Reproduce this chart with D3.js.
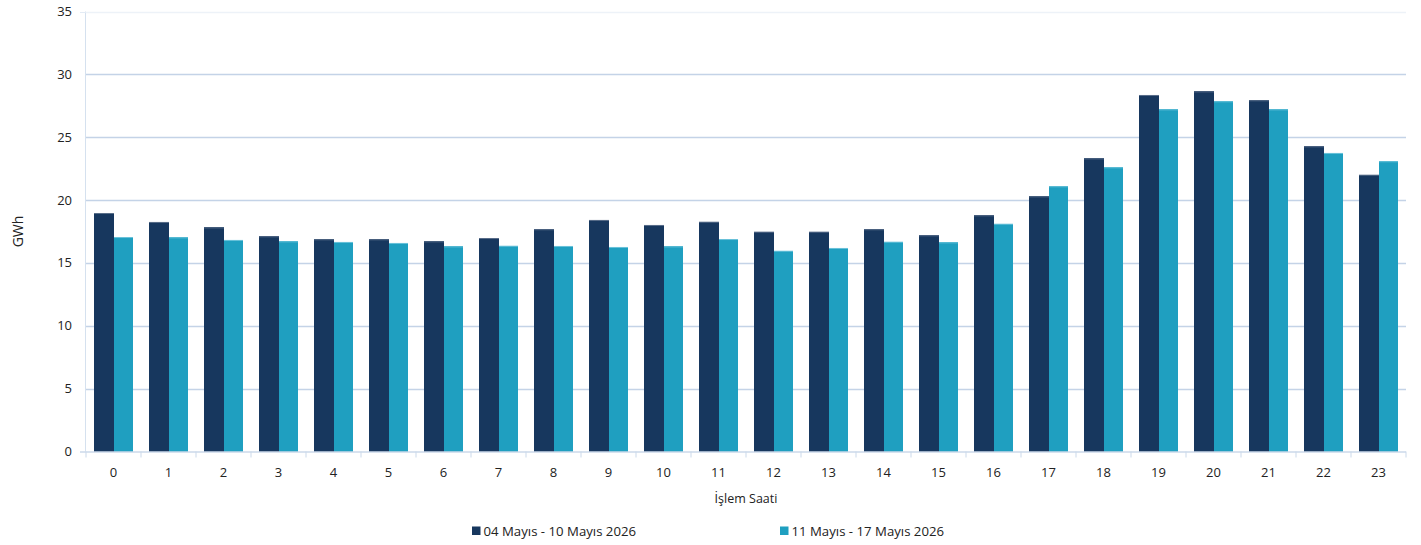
<!DOCTYPE html>
<html><head><meta charset="utf-8">
<script src="https://cdn.jsdelivr.net/npm/d3@7"></script>
<style>body{margin:0;background:#fff;}svg{display:block;font-family:"Open Sans","Noto Sans",sans-serif;}</style>
</head><body><svg id="c" width="1421" height="545"></svg>
<script>
const hours = d3.range(0,24).map(String);
const series1Name = "04 Mayıs - 10 Mayıs 2026";
const series2Name = "11 Mayıs - 17 Mayıs 2026";
const series1 = [18.97,18.26,17.83,17.12,16.88,16.88,16.72,16.98,17.68,18.42,18.02,18.28,17.49,17.49,17.68,17.20,18.79,20.30,23.32,28.36,28.65,27.94,24.28,22.02];
const series2 = [17.06,17.04,16.83,16.72,16.67,16.59,16.32,16.37,16.35,16.27,16.32,16.90,15.97,16.19,16.69,16.64,18.12,21.10,22.61,27.22,27.86,27.22,23.75,23.09];
const yTicks = [0,5,10,15,20,25,30,35];
const xTitle = "İşlem Saati";
const yTitle = "GWh";
const colors = ["#17375e","#1f9fc0"];

const svg = d3.select("#c");
const L=86, R=1406, T=11.5, B=451.5;
const x = d3.scaleBand().domain(hours).range([L,R]).paddingInner(0.28).paddingOuter(0.14);
const xs = d3.scaleBand().domain([0,1]).range([0,x.bandwidth()]);
const y = d3.scaleLinear().domain([0,35]).range([B,T]);

// gridlines
svg.append("g").selectAll("line").data(yTicks.filter(d=>d>0)).join("line")
  .attr("x1",L).attr("x2",R).attr("y1",d=>Math.round(y(d))+0.5).attr("y2",d=>Math.round(y(d))+0.5)
  .attr("stroke",d=>d===35?"#edf2f8":"#c4d3e7").attr("stroke-width",1.4);
// left axis line
svg.append("line").attr("x1",L-0.5).attr("x2",L-0.5).attr("y1",T).attr("y2",B)
  .attr("stroke","#d5e1ef").attr("stroke-width",1);

// bars
const data = hours.map((h,i)=>({h, v:[series1[i],series2[i]]}));
const g = svg.append("g");
const groups = g.selectAll("g").data(data).join("g");
groups.selectAll("rect").data(d=>d.v.map((v,k)=>({v,k,h:d.h}))).join("rect")
  .attr("x",d=>Math.round(x(d.h)+xs(d.k))).attr("width",d=>Math.round(x(d.h)+xs(d.k)+xs.bandwidth())-Math.round(x(d.h)+xs(d.k)))
  .attr("y",d=>y(d.v)).attr("height",d=>B-y(d.v))
  .attr("fill",d=>colors[d.k]).attr("shape-rendering","crispEdges");
// subtle top edge highlight
groups.selectAll("line").data(d=>d.v.map((v,k)=>({v,k,h:d.h}))).join("line")
  .attr("x1",d=>Math.round(x(d.h)+xs(d.k))).attr("x2",d=>Math.round(x(d.h)+xs(d.k)+xs.bandwidth()))
  .attr("y1",d=>y(d.v)+0.5).attr("y2",d=>y(d.v)+0.5)
  .attr("stroke",d=>d.k===0?"#5b6f8b":"#6cc3da").attr("stroke-width",1);

// x axis
const xa = svg.append("g");
xa.append("line").attr("x1",L-6).attr("x2",R).attr("y1",B+0.5).attr("y2",B+0.5).attr("stroke","#cbd9ea").attr("stroke-width",1.4);
xa.selectAll("line.t").data(d3.range(0,25)).join("line").attr("class","t")
  .attr("x1",i=>L+i*(R-L)/24).attr("x2",i=>L+i*(R-L)/24).attr("y1",B).attr("y2",B+6)
  .attr("stroke","#cbd9ea").attr("stroke-width",1);
xa.selectAll("text").data(hours).join("text")
  .attr("x",d=>x(d)+x.bandwidth()/2).attr("y",477).attr("text-anchor","middle")
  .attr("font-size",13).attr("fill","#222").text(d=>d);

// y axis labels
svg.append("g").selectAll("text").data(yTicks).join("text")
  .attr("x",72).attr("y",d=>y(d)+4.5).attr("text-anchor","end")
  .attr("font-size",13).attr("fill","#222").text(d=>d);
svg.append("line").attr("x1",L-6).attr("x2",L).attr("y1",Math.round(y(35))+0.5).attr("y2",Math.round(y(35))+0.5).attr("stroke","#e3ebf5");

// titles
svg.append("text").attr("x",(L+R)/2).attr("y",503).attr("text-anchor","middle")
  .attr("font-size",12.5).attr("fill","#222").text(xTitle);
svg.append("text").attr("transform",`translate(23,${(T+B)/2}) rotate(-90)`).attr("text-anchor","middle")
  .attr("font-size",14).attr("fill","#222").text(yTitle);

// legend
const leg = [{n:series1Name,c:colors[0],x:472},{n:series2Name,c:colors[1],x:780}];
const lg = svg.append("g").selectAll("g").data(leg).join("g").attr("transform",d=>`translate(${d.x},0)`);
lg.append("rect").attr("x",0).attr("y",526.5).attr("width",8.5).attr("height",8.5).attr("fill",d=>d.c);
lg.append("text").attr("x",11.5).attr("y",535.5).attr("font-size",13.2).attr("fill","#222").text(d=>d.n);
</script></body></html>
